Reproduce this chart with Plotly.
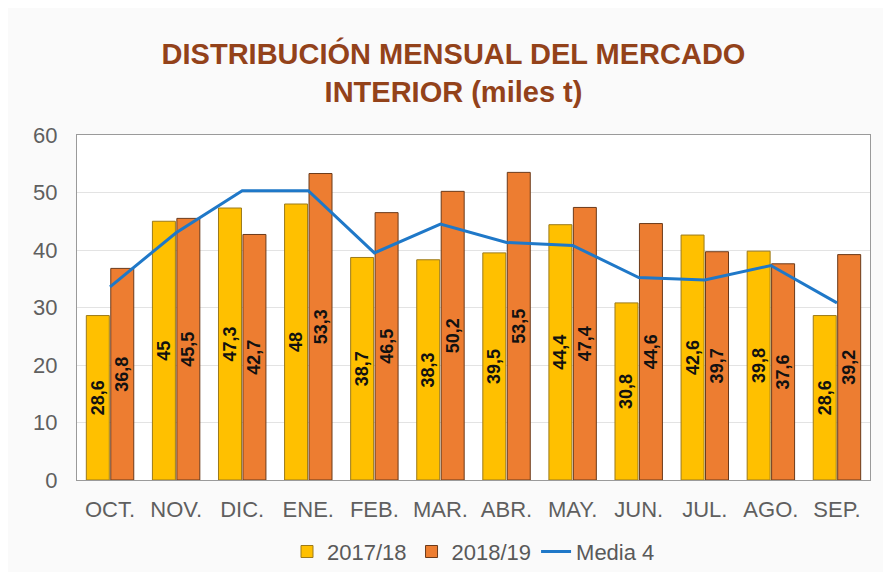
import plotly.graph_objects as go

months = ["OCT.", "NOV.", "DIC.", "ENE.", "FEB.", "MAR.", "ABR.", "MAY.", "JUN.", "JUL.", "AGO.", "SEP."]
s2017 = [28.6, 45, 47.3, 48, 38.7, 38.3, 39.5, 44.4, 30.8, 42.6, 39.8, 28.6]
s2018 = [36.8, 45.5, 42.7, 53.3, 46.5, 50.2, 53.5, 47.4, 44.6, 39.7, 37.6, 39.2]
media4 = [33.6, 43.0, 50.3, 50.3, 39.5, 44.5, 41.3, 40.8, 35.2, 34.8, 37.3, 30.8]

label_font = dict(family="Liberation Sans, Arial", size=18, color="#111111")

fig = go.Figure()
fig.add_trace(go.Bar(
    x=months, y=s2017, name="2017/18",
    marker=dict(color="#FFC000", line=dict(color="#9c7a1a", width=1)),
    texttemplate="<b>%{y}</b>", textposition="inside", insidetextanchor="middle",
    textangle=-90, textfont=label_font,
))
fig.add_trace(go.Bar(
    x=months, y=s2018, name="2018/19",
    marker=dict(color="#ED7D31", line=dict(color="#6b3a1a", width=1)),
    texttemplate="<b>%{y}</b>", textposition="inside", insidetextanchor="middle",
    textangle=-90, textfont=label_font,
))
fig.add_trace(go.Scatter(
    x=months, y=media4, name="Media 4", mode="lines",
    line=dict(color="#1F78C8", width=3),
))

fig.update_layout(
    width=891, height=572,
    separators=",.",
    paper_bgcolor="#fafafa",
    plot_bgcolor="#ffffff",
    margin=dict(l=69, r=29, t=127, b=100, autoexpand=False),
    title=dict(
        text="<b>DISTRIBUCIÓN MENSUAL DEL MERCADO<br>INTERIOR (miles t)</b>",
        x=0.5, xanchor="center", y=0.902, yanchor="top",
        font=dict(family="Liberation Sans, Arial", size=29, color="#93421a"),
    ),
    barmode="group", bargap=0.26, bargroupgap=0.06,
    uniformtext=dict(minsize=18, mode="show"),
    showlegend=True,
    legend=dict(orientation="h", x=0.5, xanchor="center", y=-0.147, yanchor="top",
                font=dict(family="Liberation Sans, Arial", size=22, color="#595959"),
                traceorder="normal"),
)
fig.update_yaxes(range=[0, 60], dtick=10, showgrid=True, gridcolor="#e3e3e3",
                 showline=True, linecolor="#9a9a9a", mirror=True, ticks="", zeroline=False,
                 ticklabelstandoff=14, automargin=False,
                 tickfont=dict(family="Liberation Sans, Arial", size=22, color="#5f5f5f"))
fig.update_xaxes(showline=True, linecolor="#9a9a9a", mirror=True, ticks="",
                 ticklabelstandoff=10, automargin=False,
                 tickfont=dict(family="Liberation Sans, Arial", size=22, color="#5f5f5f"))

fig.write_html("out.html")
